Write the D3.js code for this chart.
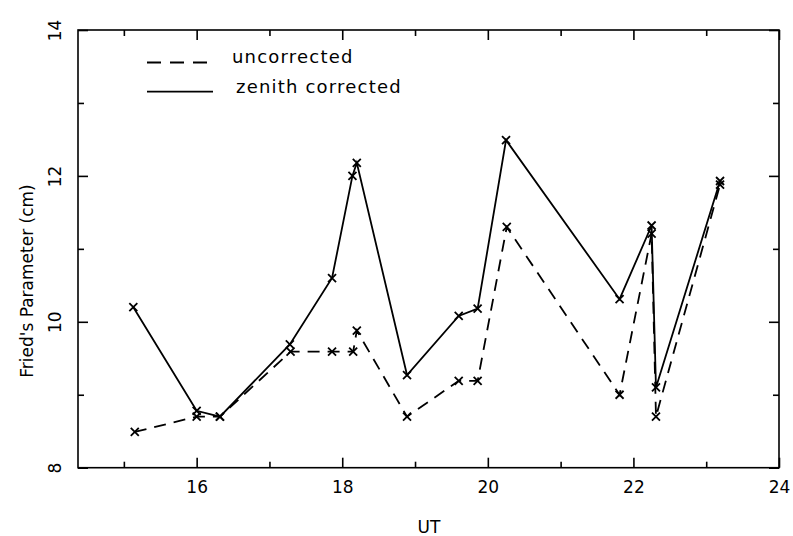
<!DOCTYPE html>
<html>
<head>
<meta charset="utf-8">
<script src="https://cdnjs.cloudflare.com/ajax/libs/d3/7.8.5/d3.min.js"></script>
<style>
    body { margin:0; padding:0; background:#fff; }
    svg text { font-family:"DejaVu Sans", sans-serif; fill:#000; }
    .axis path, .axis line { stroke:#000; stroke-width:1.6; }
    .axis text { font-size:17px; }
</style>
</head>
<body>
<svg width="793" height="536"></svg>
<script>
// values
var utCorrected = [15.13, 16.0, 16.32, 17.28, 17.86, 18.14, 18.2, 18.89, 19.6, 19.86, 20.25, 21.81, 22.25, 22.31, 23.19];
var r0Corrected = [10.2, 8.78, 8.7, 9.69, 10.6, 12.0, 12.18, 9.27, 10.08, 10.18, 12.49, 10.31, 11.32, 9.1, 11.93];
var utUncorrected = [15.15, 16.0, 16.32, 17.29, 17.86, 18.15, 18.2, 18.89, 19.6, 19.86, 20.26, 21.81, 22.25, 22.31, 23.19];
var r0Uncorrected = [8.49, 8.7, 8.7, 9.59, 9.59, 9.59, 9.88, 8.7, 9.19, 9.19, 11.3, 9.0, 11.21, 8.7, 11.88];
var xMajor = [16, 18, 20, 22, 24];
var xMinor = [15, 17, 19, 21, 23];
var yMajor = [8, 10, 12, 14];
var yMinor = [9, 11, 13];

var svg = d3.select("svg");
var plotL = 78, plotR = 779, plotT = 30, plotB = 467.7;

var x = d3.scaleLinear().domain([14.37, 24]).range([plotL, plotR]);
var y = d3.scaleLinear().domain([8, 14]).range([plotB, plotT]);

// frame
svg.append("rect")
    .attr("x", plotL).attr("y", plotT)
    .attr("width", plotR - plotL).attr("height", plotB - plotT)
    .attr("fill", "none").attr("stroke", "#000").attr("stroke-width", 1.6);

function addAxis(gen, tx, ty, vals, size, labels) {
    var g = svg.append("g").attr("class", "axis")
        .attr("transform", "translate(" + tx + "," + ty + ")")
        .call(gen.tickValues(vals).tickSizeInner(-size).tickSizeOuter(0)
            .tickFormat(labels ? d3.format("d") : ""));
    g.select(".domain").remove();
    return g;
}

var xb = addAxis(d3.axisBottom(x), 0, plotB, xMajor, 10, true);
xb.selectAll("text").attr("y", 0).attr("dy", "25px");
addAxis(d3.axisBottom(x), 0, plotB, xMinor, 6, false);
addAxis(d3.axisTop(x), 0, plotT, xMajor, 10, false);
addAxis(d3.axisTop(x), 0, plotT, xMinor, 6, false);

var yl = addAxis(d3.axisLeft(y), plotL, 0, yMajor, 10, true);
yl.selectAll("text")
    .attr("x", 0).attr("dy", 0)
    .attr("text-anchor", "middle")
    .attr("transform", "translate(-17,0) rotate(-90)");
addAxis(d3.axisLeft(y), plotL, 0, yMinor, 6, false);
addAxis(d3.axisRight(y), plotR, 0, yMajor, 10, false);
addAxis(d3.axisRight(y), plotR, 0, yMinor, 6, false);

// axis titles
svg.append("text")
    .attr("transform", "translate(33,281) rotate(-90)")
    .attr("text-anchor", "middle")
    .style("font-size", "17px")
    .text("Fried's Parameter (cm)");

svg.append("text")
    .attr("x", 429).attr("y", 533)
    .attr("text-anchor", "middle")
    .style("font-size", "17px")
    .text("UT");

// series
function drawSeries(uts, vals, dash) {
    var pts = d3.zip(uts, vals);
    var line = d3.line().x(function(d) { return x(d[0]); }).y(function(d) { return y(d[1]); });
    svg.append("path")
        .datum(pts)
        .attr("d", line)
        .attr("fill", "none")
        .attr("stroke", "#000")
        .attr("stroke-width", 1.8)
        .attr("stroke-dasharray", dash);
    svg.append("g").selectAll("path")
        .data(pts)
        .enter().append("path")
        .attr("transform", function(d) { return "translate(" + x(d[0]) + "," + y(d[1]) + ")"; })
        .attr("d", "M-4,-4L4,4M-4,4L4,-4")
        .attr("stroke", "#000")
        .attr("stroke-width", 1.8);
}

drawSeries(utUncorrected, r0Uncorrected, "12,8");
drawSeries(utCorrected, r0Corrected, null);

// legend
var legend = svg.append("g");
legend.append("line")
    .attr("x1", 147).attr("x2", 209).attr("y1", 62.5).attr("y2", 62.5)
    .attr("stroke", "#000").attr("stroke-width", 1.8)
    .attr("stroke-dasharray", "14,9");
legend.append("line")
    .attr("x1", 147).attr("x2", 213).attr("y1", 91.7).attr("y2", 91.7)
    .attr("stroke", "#000").attr("stroke-width", 1.8);
legend.append("text")
    .attr("x", 232).attr("y", 63.3)
    .style("font-size", "18px").style("letter-spacing", "1.2px")
    .text("uncorrected");
legend.append("text")
    .attr("x", 236).attr("y", 93.3)
    .style("font-size", "18px").style("letter-spacing", "1.2px")
    .text("zenith corrected");
</script>
</body>
</html>
